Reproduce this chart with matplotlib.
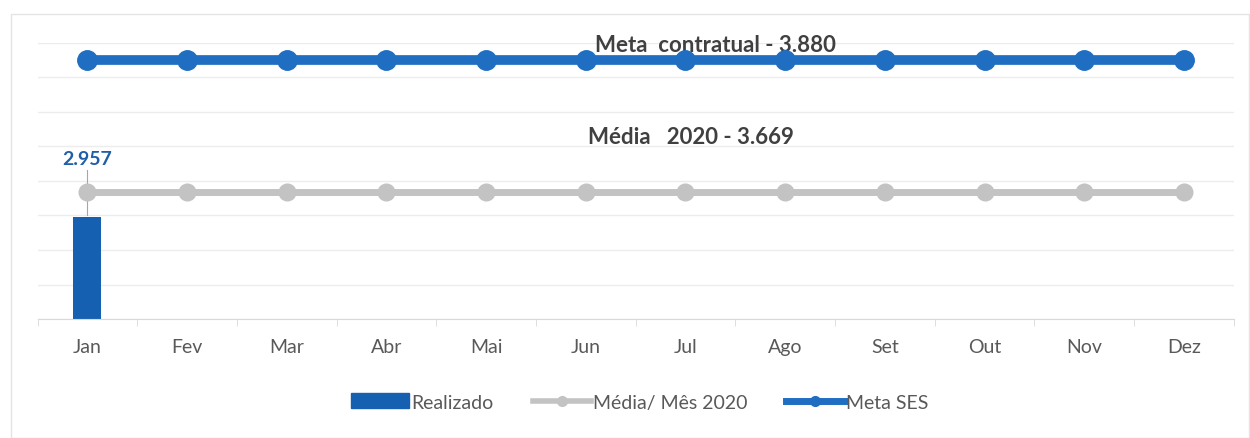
import numpy as np
import matplotlib.pyplot as plt
from matplotlib.patches import Rectangle, Patch
from matplotlib.lines import Line2D

plt.rcParams['font.family'] = ['Lato', 'DejaVu Sans']

meses = ['Jan', 'Fev', 'Mar', 'Abr', 'Mai', 'Jun', 'Jul', 'Ago', 'Set', 'Out', 'Nov', 'Dez']
realizado = [2957, None, None, None, None, None, None, None, None, None, None, None]
media_2020 = [3669] * 12
meta_ses = [3880] * 12

x = np.arange(len(meses))
bar_color = '#1660b2'
meta_color = '#1f6ec2'
media_color = '#c3c3c3'
txt_gray = '#595959'

fig = plt.figure(figsize=(12.5, 4.39), dpi=100)
ax = fig.add_axes([0.03, 0.271, 0.957, 0.629])
ax2 = ax.twinx()

# faint chart border
fig.patches.append(Rectangle((0.009, 0.0), 0.99, 0.965, transform=fig.transFigure,
                             fill=False, edgecolor='#e4e4e4', linewidth=1))

vals = [v if v is not None else 0 for v in realizado]
ax.bar(x, vals, width=0.28, color=bar_color, zorder=2)
ax.plot(x, media_2020, color=media_color, lw=5, marker='o', ms=12, zorder=3)
ax2.plot(x, meta_ses, color=meta_color, lw=7, marker='o', ms=14, zorder=3)

ax.set_xlim(-0.5, 11.5)
ax.set_ylim(0, 8000)
ax.set_yticks(np.arange(0, 8001, 1000))
ax.grid(axis='y', color='#ececec', lw=1)
ax.set_axisbelow(True)
ax2.set_ylim(0, 3880 / 0.9375)
ax2.axis('off')

for s in ['top', 'right', 'left']:
    ax.spines[s].set_visible(False)
ax.spines['bottom'].set_color('#d9d9d9')
ax.tick_params(axis='y', left=False, labelleft=False)
ax.set_xticks(x)
ax.set_xticklabels(meses, fontsize=14, color=txt_gray)
ax.tick_params(axis='x', length=0, pad=14)
ax.set_xticks(np.arange(-0.5, 12, 1), minor=True)
ax.tick_params(axis='x', which='minor', length=5, color='#d9d9d9')

# data label for Jan
ax.plot([0, 0], [realizado[0] + 60, realizado[0] + 1350], color='#a6a6a6', lw=0.8, zorder=1)
ax.text(0, realizado[0] + 1450, '2.957', ha='center', va='bottom', fontsize=14,
        fontweight='bold', color='#1f5fa8')

ax.text(6.3, 7.94 / 8 * 8000, 'Meta  contratual - 3.880', ha='center', va='center',
        fontsize=16, fontweight='bold', color='#404040', zorder=4)
ax.text(6.05, 5.3 * 1000, 'Média   2020 - 3.669', ha='center', va='center',
        fontsize=16, fontweight='bold', color='#404040', zorder=4)

handles = [Patch(color=bar_color),
           Line2D([], [], color=media_color, lw=4, marker='o', ms=7),
           Line2D([], [], color=meta_color, lw=5, marker='o', ms=7)]
labels = ['Realizado', 'Média/ Mês 2020', 'Meta SES']
leg = fig.legend(handles, labels, loc='center', bbox_to_anchor=(0.512, 0.082), ncol=3,
                 frameon=False, fontsize=14, handlelength=3.0, handleheight=0.8,
                 columnspacing=2.0, handletextpad=0.1)
for t in leg.get_texts():
    t.set_color(txt_gray)

fig.savefig('out.png', dpi=100, facecolor='white')
